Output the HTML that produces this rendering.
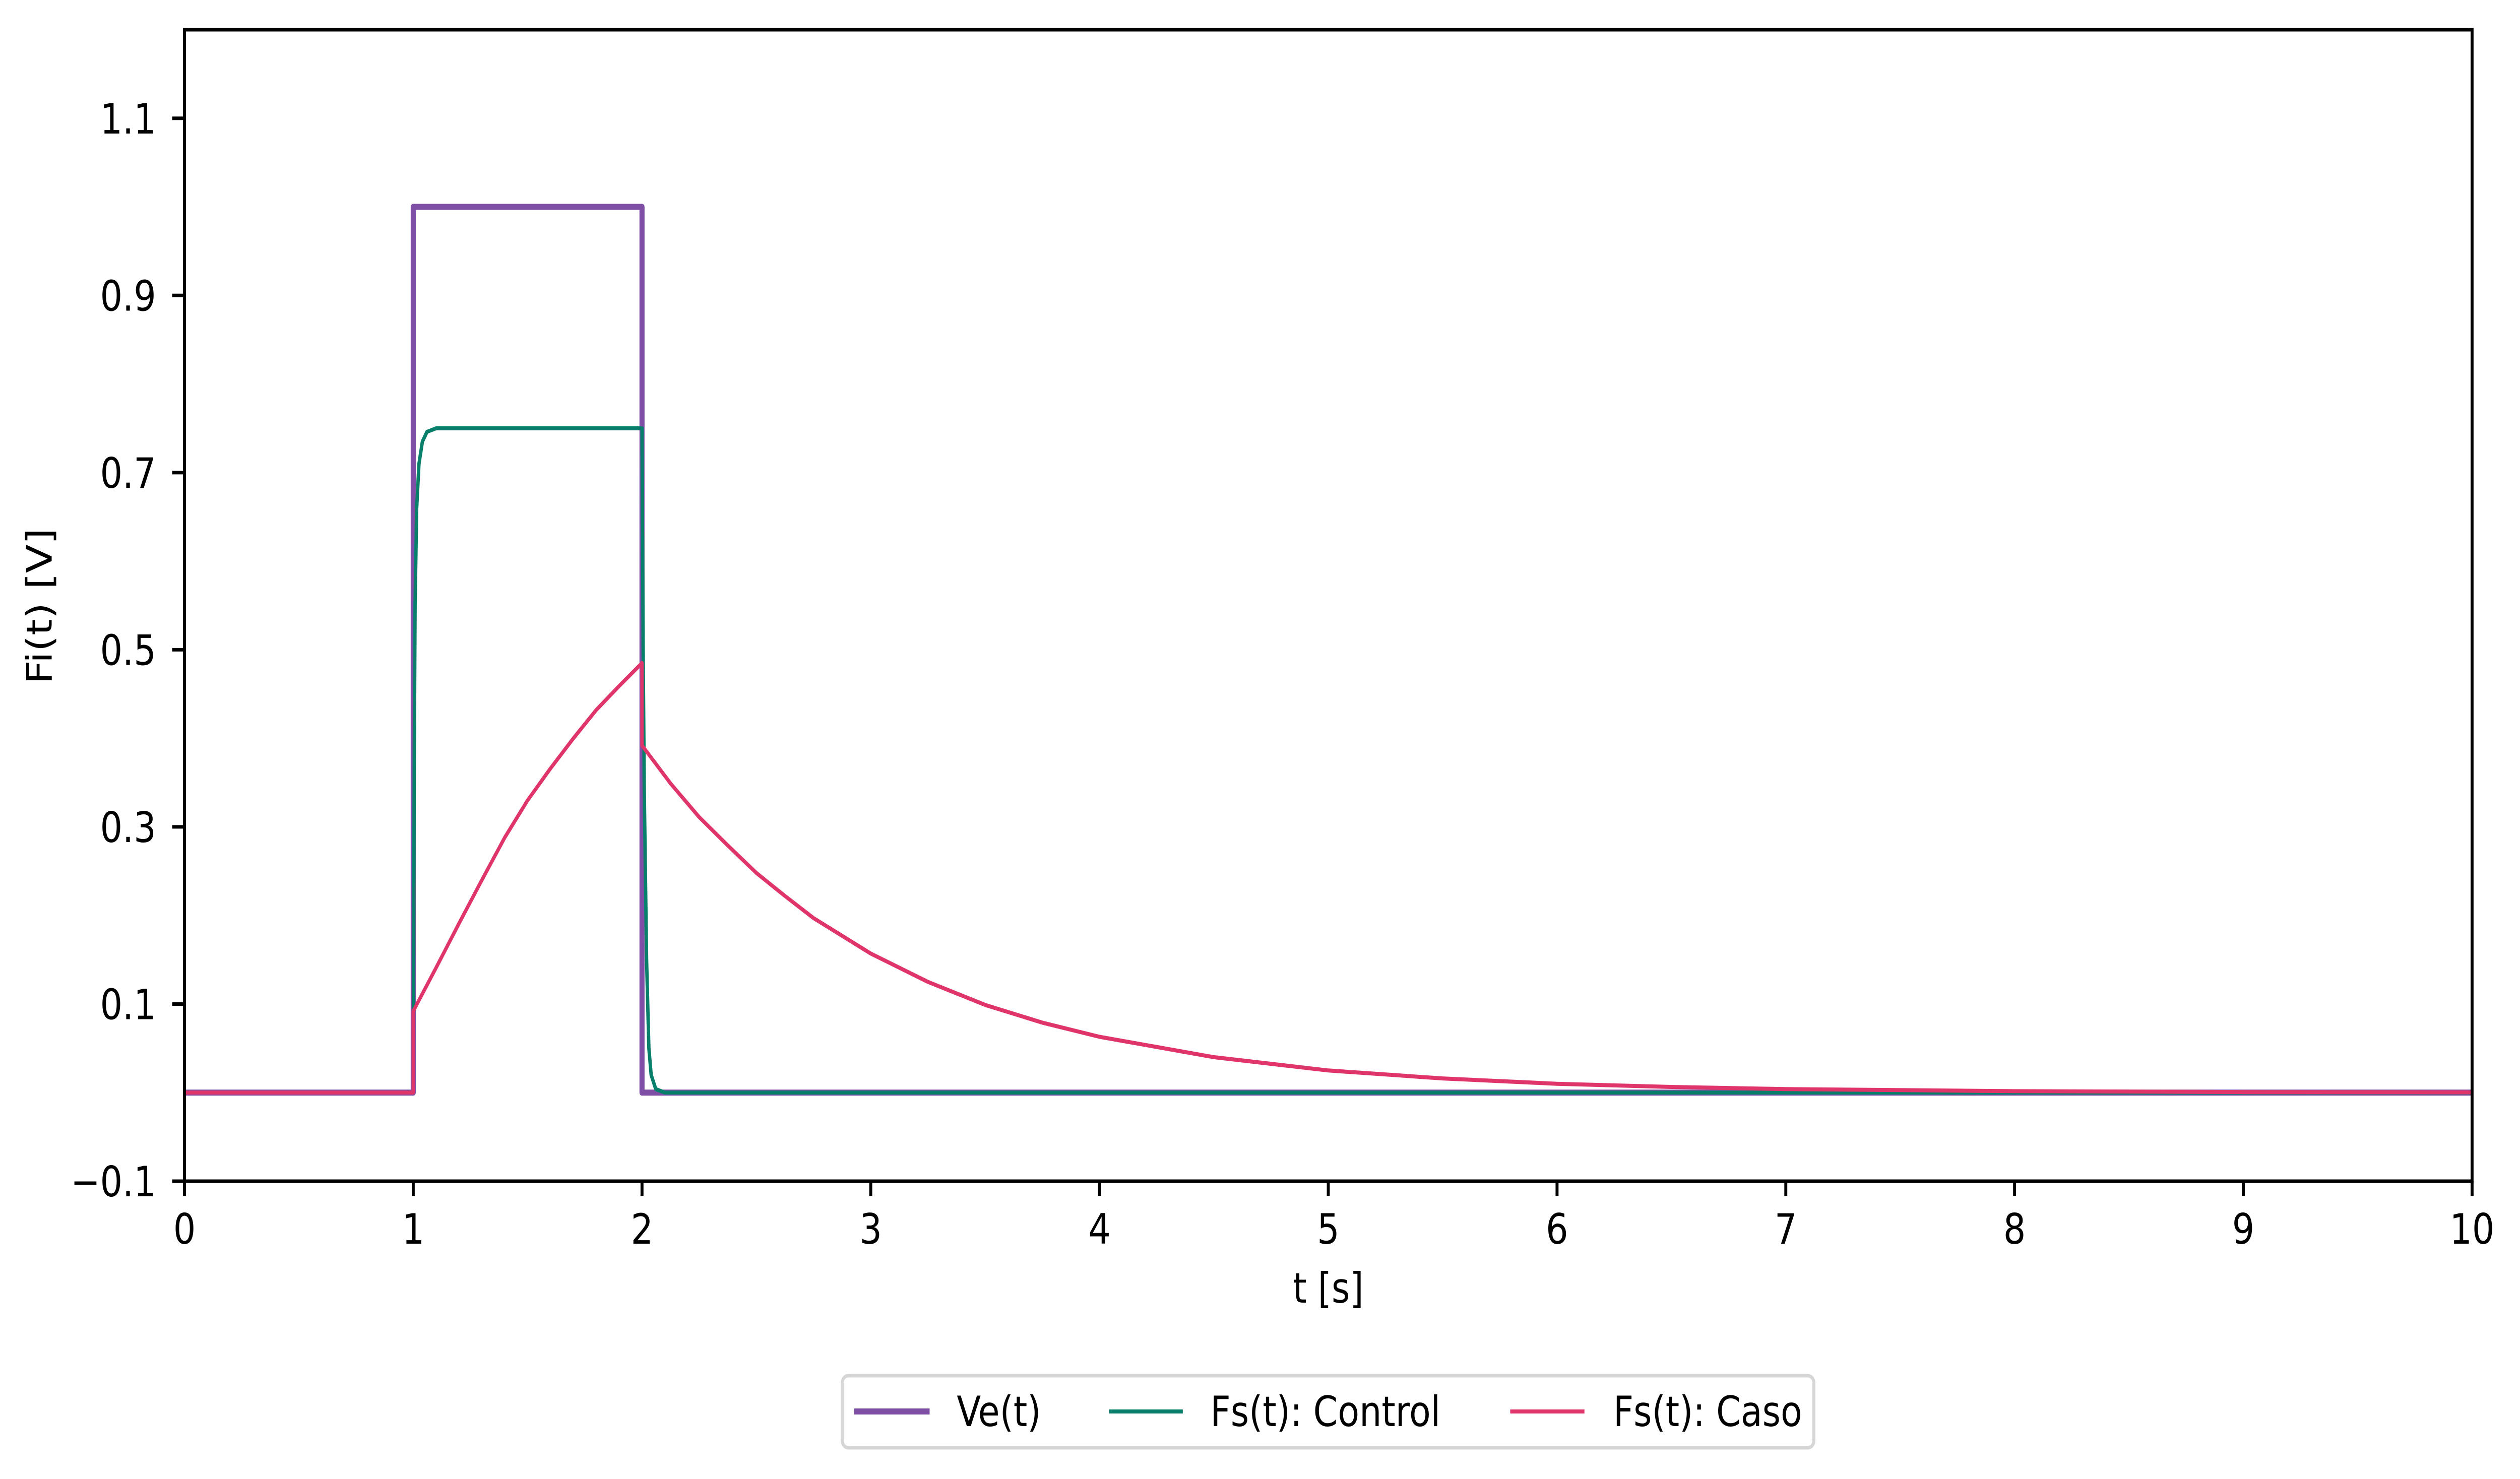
<!DOCTYPE html>
<html>
<head>
<meta charset="utf-8">
<style>
html,body{margin:0;padding:0;background:#fff;overflow:hidden;width:100vw;height:100vh;}
svg{display:block;width:100vw;height:100vh;}
text{font-family:"DejaVu Sans","Liberation Sans",sans-serif;fill:#000;}
</style>
</head>
<body>
<svg id="chart" viewBox="0 0 5942 2935" preserveAspectRatio="none" xmlns="http://www.w3.org/2000/svg">
<rect x="0" y="0" width="5942" height="2935" fill="#fff"/>
<g id="plot"></g>
<g id="axes"></g>
<text x="3132" y="2585" font-size="83" text-anchor="middle">t [s]</text>
<text x="0" y="0" font-size="83" text-anchor="middle" transform="translate(122,1203) rotate(-90)">Fi(t) [V]</text>
<g>
<rect x="1986" y="2730" width="2291" height="143" rx="14" fill="#fff" stroke="#d6d6d6" stroke-width="7"/>
<line x1="2014" y1="2801" x2="2192" y2="2801" stroke="#7F4FA6" stroke-width="12"/>
<text x="2256" y="2830" font-size="83">Ve(t)</text>
<line x1="2615" y1="2801" x2="2789" y2="2801" stroke="#087F6B" stroke-width="8"/>
<text x="2854" y="2830" font-size="83">Fs(t): Control</text>
<line x1="3561" y1="2801" x2="3736" y2="2801" stroke="#E0356A" stroke-width="8"/>
<text x="3804" y="2830" font-size="83">Fs(t): Caso</text>
</g>
</svg>
<script>
const xTicks = [0,1,2,3,4,5,6,7,8,9,10];
const yTicks = [-0.1,0.1,0.3,0.5,0.7,0.9,1.1];
const yTickLabels = ["\u22120.1","0.1","0.3","0.5","0.7","0.9","1.1"];
const veT = [0,1,1,2,2,10];
const veV = [0,0,1,1,0,0];
const ctrlT = [0,1,1.004,1.008,1.015,1.025,1.04,1.06,1.1,2,2.005,2.01,2.02,2.03,2.04,2.06,2.1,10];
const ctrlV = [0,0,0.35,0.55,0.66,0.71,0.735,0.746,0.75,0.75,0.50,0.34,0.15,0.05,0.02,0.004,0,0];
const casoT = [0,1,1,1.1,1.2,1.3,1.4,1.5,1.6,1.7,1.8,1.9,2,2,2.125,2.25,2.375,2.5,2.625,2.75,3,3.25,3.5,3.75,4,4.5,5,5.5,6,6.5,7,8,9,10];
const casoV = [0,0,0.092,0.141,0.191,0.240,0.288,0.330,0.366,0.400,0.432,0.459,0.485,0.392,0.349,0.311,0.279,0.248,0.222,0.197,0.157,0.125,0.099,0.079,0.063,0.040,0.025,0.016,0.010,0.0064,0.0040,0.0016,0.0006,0.0003];

const NS = "http://www.w3.org/2000/svg";
const L = 435, R = 5829, T = 59, B = 2344;
const xMin = 0, xMax = 10, yMin = -0.1, yMax = 1.2;
function xs(v){ return L + (v - xMin) / (xMax - xMin) * (R - L); }
function ys(v){ return B - (v - yMin) / (yMax - yMin) * (B - T); }

const plot = document.getElementById('plot');
const axes = document.getElementById('axes');

function series(ts, vs, color, w, name){
  const p = document.createElementNS(NS, 'polyline');
  p.setAttribute('points', ts.map((t,i)=> xs(t).toFixed(1)+','+ys(vs[i]).toFixed(1)).join(' '));
  p.setAttribute('fill','none');
  p.setAttribute('stroke',color);
  p.setAttribute('stroke-width',w);
  p.setAttribute('stroke-linejoin','round');
  
  
  plot.appendChild(p);
}
series(veT, veV, '#7F4FA6', 12, 've-line');
series(ctrlT, ctrlV, '#087F6B', 8, 'control-line');
series(casoT, casoV, '#E0356A', 8, 'caso-line');

const frame = document.createElementNS(NS,'rect');
frame.setAttribute('x',L); frame.setAttribute('y',T);
frame.setAttribute('width',R-L); frame.setAttribute('height',B-T);
frame.setAttribute('fill','none'); frame.setAttribute('stroke','#000'); frame.setAttribute('stroke-width','7');


axes.appendChild(frame);

xTicks.forEach(v=>{
  const x = xs(v);
  const ln = document.createElementNS(NS,'line');
  ln.setAttribute('x1',x); ln.setAttribute('x2',x); ln.setAttribute('y1',B); ln.setAttribute('y2',B+29);
  ln.setAttribute('stroke','#000'); ln.setAttribute('stroke-width','7');
  
  
  axes.appendChild(ln);
  const tx = document.createElementNS(NS,'text');
  tx.setAttribute('x',x); tx.setAttribute('y',2468); tx.setAttribute('font-size','83'); tx.setAttribute('text-anchor','middle');
  tx.textContent = String(v);
  
  
  axes.appendChild(tx);
});
yTicks.forEach((v,i)=>{
  const y = ys(v);
  const ln = document.createElementNS(NS,'line');
  ln.setAttribute('x1',L-29); ln.setAttribute('x2',L); ln.setAttribute('y1',y); ln.setAttribute('y2',y);
  ln.setAttribute('stroke','#000'); ln.setAttribute('stroke-width','7');
  
  
  axes.appendChild(ln);
  const tx = document.createElementNS(NS,'text');
  tx.setAttribute('x',368); tx.setAttribute('y',y+30); tx.setAttribute('font-size','83'); tx.setAttribute('text-anchor','end');
  tx.textContent = yTickLabels[i];
  
  
  axes.appendChild(tx);
});
</script>
</body>
</html>
